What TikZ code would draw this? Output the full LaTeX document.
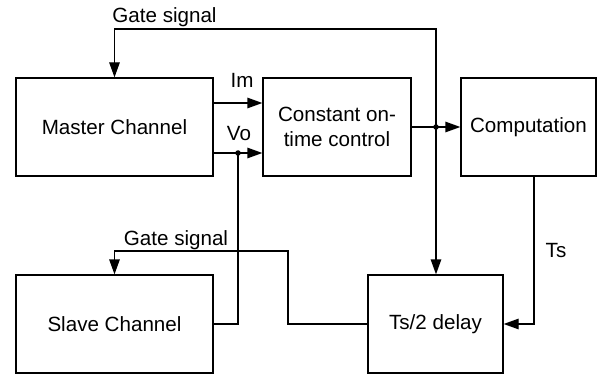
\documentclass[tikz,border=0pt]{standalone}
\usepackage{fontspec}
\setmainfont{Liberation Sans}
\usetikzlibrary{arrows.meta}
\begin{document}
\begin{tikzpicture}[x=1pt,y=-1pt,
  box/.style={draw,line width=1.3pt,minimum height=98pt,inner sep=0pt,align=center,font=\fontsize{20.6}{25}\selectfont},
  conn/.style={line width=1.3pt},
  arr/.style={conn,-{Triangle[length=15pt,width=10.5pt]}},
  lbl/.style={anchor=base,inner sep=0pt,font=\fontsize{20.6}{24}\selectfont},
  jdot/.style={circle,fill,inner sep=0pt,minimum size=5.5pt}]
\useasboundingbox (0,0) rectangle (600,377);
\node[box,minimum width=197pt] (master) at (114.5,127) {Master Channel};
\node[box,minimum width=148pt] (cot) at (337,127) {Constant on-\\time control};
\node[box,minimum width=135pt] (comp) at (528.5,127) {Computation};
\node[box,minimum width=197pt] (slave) at (114.5,324) {Slave Channel};
\node[box,minimum width=135pt] (delay) at (435.5,324) {Ts/2 delay};
\coordinate (imy) at (0,103);
\coordinate (voj) at (238,153);
\coordinate (cj) at (436,127);
\coordinate (gt) at (436,29);
\coordinate (tsx) at (534,176);
\coordinate (sg) at (288,251);
\draw[arr] (master.east |- imy) -- (cot.west |- imy);
\draw[arr] (master.east |- voj) -- (cot.west |- voj);
\draw[conn] (voj) |- (slave.east);
\node[jdot] (vodot) at (voj) {};
\draw[arr] (cot.east) -- (comp.west);
\draw[arr] (cj) -- (gt) -| (master.north);
\draw[arr] (cj) -- (cj |- delay.north);
\node[jdot] (cdot) at (cj) {};
\draw[arr] (comp.south -| tsx) |- (delay.east);
\draw[arr] (delay.west) -| (sg) -| (slave.north);
\node[lbl] (gl1) at (164.5,23) {Gate signal};
\node[lbl] (iml) at (242,88) {Im};
\node[lbl] (vol) at (239,141) {Vo};
\node[lbl] (tsl) at (556,257) {Ts};
\node[lbl] (gl2) at (176,245) {Gate signal};
\end{tikzpicture}
\end{document}
